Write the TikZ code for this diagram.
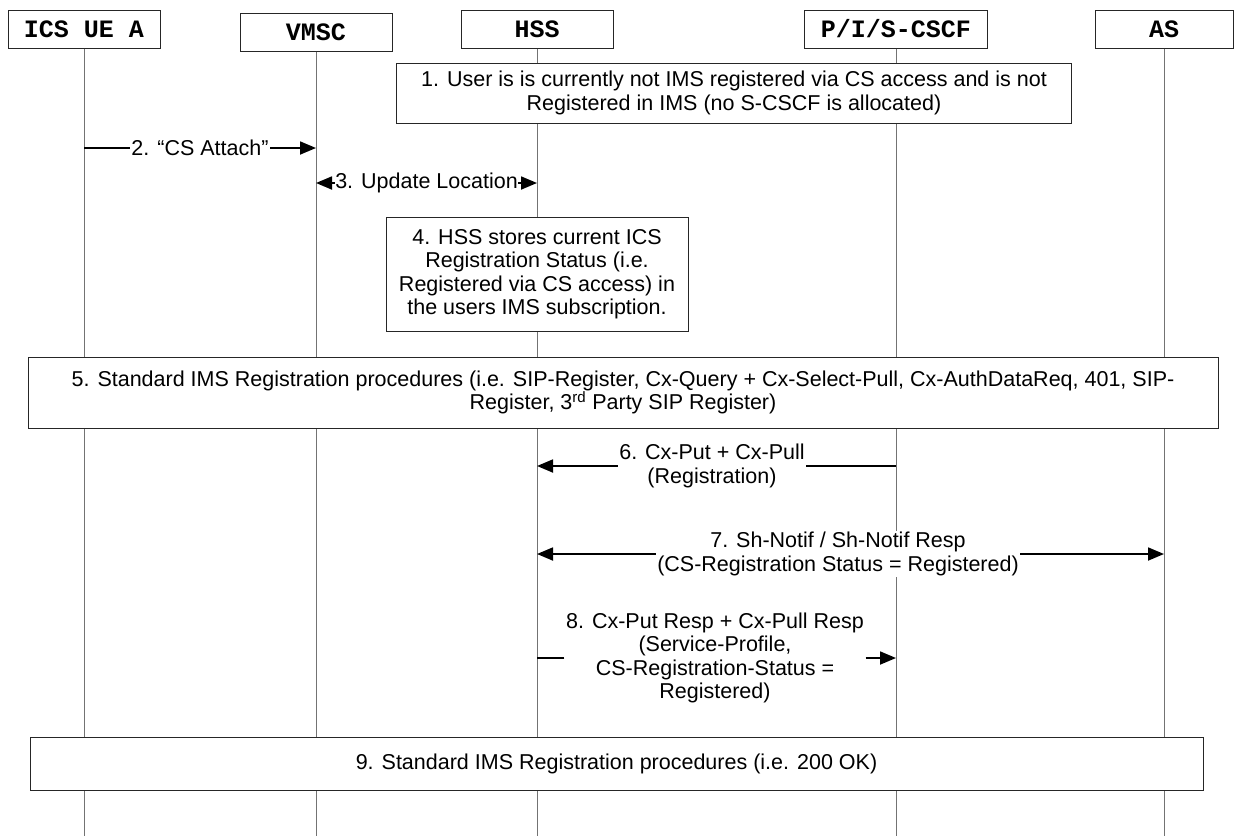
\documentclass[tikz,border=0pt]{standalone}
\usepackage{fontspec}
\setmainfont{Liberation Sans}
\newfontfamily\hdrfont{Liberation Mono}
\usetikzlibrary{arrows.meta}
\begin{document}
\begin{tikzpicture}[x=1pt,y=-1pt,
  txt/.style={font=\fontsize{21.5}{23.5}\selectfont, align=center},
  hdr/.style={draw=black!85, line width=1pt, fill=white, minimum height=38pt,
    inner sep=0pt, font=\hdrfont\bfseries\fontsize{25}{25}\selectfont},
  life/.style={draw=black!55, line width=1pt},
  note/.style={txt, draw=black!85, line width=1pt, fill=white, inner sep=0pt},
  lbl/.style={txt, fill=white, inner sep=1.5pt},
  msg/.style={line width=1.8pt, draw=black},
  tip/.style={-{Triangle[length=16pt,width=13pt]}}]
\useasboundingbox (0,0) rectangle (1242,836);

% participants
\node[hdr, minimum width=152pt] (ue)   at (84,29)   {ICS UE A};
\node[hdr, minimum width=152pt] (vmsc) at (316,32)  {VMSC};
\node[hdr, minimum width=152pt] (hss)  at (537,29)  {HSS};
\node[hdr, minimum width=183pt] (cscf) at (896,29)  {P/I/S-CSCF};
\node[hdr, minimum width=138pt] (as)   at (1164,29) {AS};

% lifelines
\coordinate (ueE)   at (84,836);
\coordinate (vmscE) at (316,836);
\coordinate (hssE)  at (537,836);
\coordinate (cscfE) at (896,836);
\coordinate (asE)   at (1164,836);
\draw[life] (ue) -- (ueE);
\draw[life] (vmsc) -- (vmscE);
\draw[life] (hss) -- (hssE);
\draw[life] (cscf) -- (cscfE);
\draw[life] (as) -- (asE);

% 1. initial state
\node[note, minimum width=675pt, minimum height=60pt] (n1) at (734,93)
  {1. User is is currently not IMS registered via CS access and is not\\
   Registered in IMS (no S-CSCF is allocated)};

% 2. CS attach
\coordinate (m2a) at (84,148);
\coordinate (m2b) at (316,148);
\node[lbl] (l2) at (200,148) {2. “CS Attach”};
\draw[msg] (l2.west) -- (m2a);
\draw[msg, tip] (l2.east) -- (m2b);

% 3. update location
\coordinate (m3a) at (316,183);
\coordinate (m3b) at (537,183);
\node[lbl, inner sep=0.5pt] (l3) at (426.5,183) {3. Update Location};
\draw[msg, tip] (l3.west) -- (m3a);
\draw[msg, tip] (l3.east) -- (m3b);

% 4. HSS stores status
\node[note, minimum width=302pt, minimum height=114pt] (n4) at (537,274)
  {4. HSS stores current ICS\\ Registration Status (i.e.\\
   Registered via CS access) in\\ the users IMS subscription.};

% 5. standard registration
\node[note, minimum width=1190pt, minimum height=71pt] (n5) at (623,392.5)
  {5. Standard IMS Registration procedures (i.e. SIP-Register, Cx-Query + Cx-Select-Pull, Cx-AuthDataReq, 401, SIP-\\
   Register, 3\textsuperscript{rd} Party SIP Register)};

% 6. Cx-Put + Cx-Pull
\coordinate (m6a) at (896,466);
\coordinate (m6b) at (537,466);
\node[lbl] (l6) at (712,466) {6. Cx-Put + Cx-Pull\\(Registration)};
\draw[msg] (l6.east) -- (m6a);
\draw[msg, tip] (l6.west) -- (m6b);

% 7. Sh-Notif
\coordinate (m7a) at (537,554);
\coordinate (m7b) at (1164,554);
\node[lbl] (l7) at (838,554) {7. Sh-Notif / Sh-Notif Resp\\(CS-Registration Status = Registered)};
\draw[msg, tip] (l7.west) -- (m7a);
\draw[msg, tip] (l7.east) -- (m7b);

% 8. Cx-Put Resp + Cx-Pull Resp
\coordinate (m8a) at (537,658);
\coordinate (m8b) at (896,658);
\node[lbl] (l8) at (715,658) {8. Cx-Put Resp + Cx-Pull Resp\\(Service-Profile,\\CS-Registration-Status =\\Registered)};
\draw[msg] (l8.west) -- (m8a);
\draw[msg, tip] (l8.east) -- (m8b);

% 9. registration completes
\node[note, minimum width=1173pt, minimum height=53pt] (n9) at (616.5,763.5)
  {9. Standard IMS Registration procedures (i.e. 200 OK)};
\end{tikzpicture}
\end{document}
